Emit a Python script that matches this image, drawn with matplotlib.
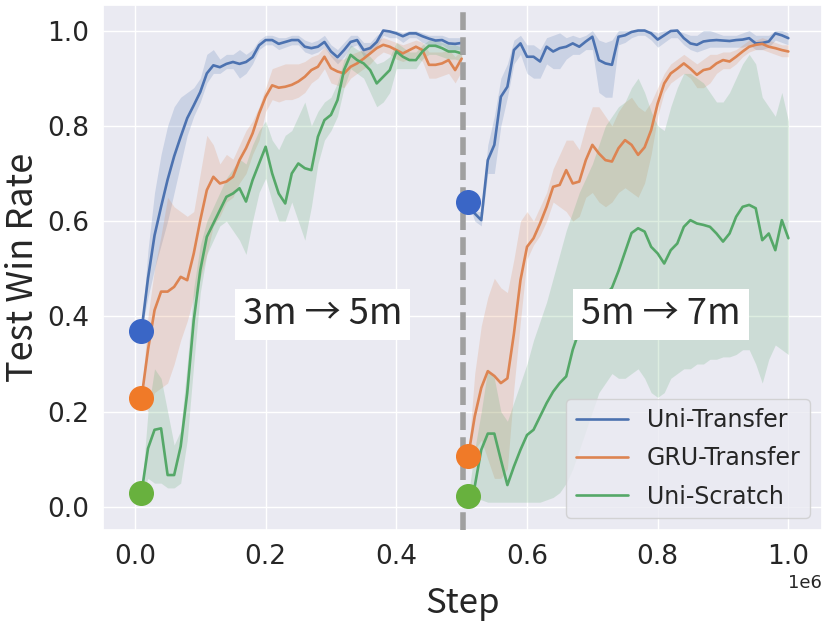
import numpy as np
import matplotlib
matplotlib.use('agg')
import matplotlib.pyplot as plt
import seaborn as sns

sns.set_theme(style="darkgrid")
plt.rcParams['font.family'] = ['DejaVu Sans']

# logged every 10k steps; two phases split at 0.5e6
steps_a = np.arange(1, 51) * 1e4
steps_b = np.arange(51, 101) * 1e4

# ---- phase 1: 3m -> 5m ----
uni_tr_a = [0.37, 0.48, 0.57, 0.63, 0.687, 0.736, 0.777, 0.816, 0.843, 0.871,
            0.91, 0.927, 0.923, 0.93, 0.934, 0.93, 0.934, 0.944, 0.969, 0.98,
            0.98, 0.972, 0.976, 0.98, 0.98, 0.966, 0.963, 0.966, 0.976, 0.956,
            0.944, 0.959, 0.976, 0.98, 0.959, 0.963, 0.976, 1.0, 0.998, 0.994,
            0.988, 0.994, 0.994, 0.988, 0.983, 0.979, 0.98, 0.973, 0.972, 0.974]
uni_tr_a_lo = [0.37, 0.44, 0.50, 0.55, 0.60, 0.66, 0.72, 0.78, 0.82, 0.85,
               0.89, 0.91, 0.91, 0.92, 0.92, 0.90, 0.91, 0.93, 0.96, 0.97,
               0.97, 0.96, 0.965, 0.97, 0.97, 0.955, 0.95, 0.955, 0.965, 0.945,
               0.93, 0.945, 0.965, 0.97, 0.945, 0.95, 0.965, 0.99, 0.985, 0.985,
               0.975, 0.985, 0.985, 0.975, 0.97, 0.965, 0.97, 0.96, 0.96, 0.96]
uni_tr_a_hi = [0.37, 0.54, 0.66, 0.74, 0.80, 0.84, 0.86, 0.87, 0.88, 0.90,
               0.95, 0.96, 0.94, 0.95, 0.95, 0.96, 0.95, 0.96, 0.98, 0.99,
               0.99, 0.985, 0.985, 0.99, 0.99, 0.98, 0.975, 0.98, 0.99, 0.97,
               0.96, 0.975, 0.99, 0.99, 0.975, 0.975, 0.99, 1.0, 1.0, 1.0,
               0.995, 1.0, 1.0, 0.995, 0.99, 0.99, 0.99, 0.985, 0.985, 0.985]

gru_tr_a = [0.228, 0.33, 0.413, 0.452, 0.452, 0.462, 0.483, 0.476, 0.532, 0.602,
            0.665, 0.693, 0.679, 0.683, 0.693, 0.728, 0.753, 0.784, 0.826, 0.861,
            0.885, 0.88, 0.882, 0.886, 0.893, 0.903, 0.917, 0.924, 0.945, 0.921,
            0.914, 0.91, 0.924, 0.931, 0.941, 0.952, 0.963, 0.97, 0.966, 0.959,
            0.952, 0.959, 0.966, 0.959, 0.928, 0.928, 0.931, 0.938, 0.917, 0.941]
gru_tr_a_lo = [0.228, 0.20, 0.24, 0.25, 0.26, 0.30, 0.35, 0.39, 0.44, 0.48,
               0.53, 0.59, 0.61, 0.64, 0.65, 0.68, 0.70, 0.74, 0.77, 0.83,
               0.855, 0.85, 0.855, 0.855, 0.86, 0.87, 0.89, 0.90, 0.92, 0.89,
               0.885, 0.88, 0.90, 0.91, 0.92, 0.93, 0.945, 0.955, 0.95, 0.94,
               0.935, 0.94, 0.945, 0.935, 0.90, 0.90, 0.905, 0.91, 0.89, 0.915]
gru_tr_a_hi = [0.228, 0.40, 0.50, 0.57, 0.65, 0.63, 0.62, 0.61, 0.62, 0.70,
               0.78, 0.76, 0.72, 0.74, 0.73, 0.76, 0.79, 0.81, 0.84, 0.88,
               0.92, 0.925, 0.93, 0.93, 0.93, 0.935, 0.945, 0.95, 0.965, 0.95,
               0.94, 0.94, 0.95, 0.955, 0.96, 0.97, 0.98, 0.985, 0.98, 0.975,
               0.97, 0.975, 0.98, 0.975, 0.955, 0.955, 0.955, 0.96, 0.945, 0.96]

uni_sc_a = [0.029, 0.123, 0.162, 0.165, 0.067, 0.067, 0.127, 0.239, 0.392, 0.497,
            0.567, 0.595, 0.623, 0.651, 0.658, 0.669, 0.641, 0.686, 0.721, 0.756,
            0.70, 0.658, 0.637, 0.70, 0.721, 0.711, 0.707, 0.777, 0.812, 0.823,
            0.854, 0.917, 0.949, 0.938, 0.931, 0.917, 0.889, 0.903, 0.917, 0.956,
            0.945, 0.938, 0.938, 0.956, 0.968, 0.968, 0.963, 0.956, 0.956, 0.952]
uni_sc_a_lo = [0.029, 0.06, 0.05, 0.05, 0.04, 0.04, 0.05, 0.14, 0.30, 0.45,
               0.53, 0.56, 0.59, 0.60, 0.58, 0.56, 0.53, 0.60, 0.66, 0.69,
               0.64, 0.60, 0.60, 0.64, 0.60, 0.56, 0.63, 0.72, 0.77, 0.79,
               0.82, 0.88, 0.92, 0.91, 0.90, 0.87, 0.84, 0.85, 0.87, 0.92,
               0.92, 0.92, 0.92, 0.94, 0.95, 0.95, 0.945, 0.94, 0.94, 0.935]
uni_sc_a_hi = [0.029, 0.20, 0.29, 0.27, 0.20, 0.13, 0.16, 0.30, 0.46, 0.55,
               0.60, 0.63, 0.66, 0.69, 0.71, 0.73, 0.72, 0.76, 0.79, 0.81,
               0.77, 0.75, 0.78, 0.79, 0.82, 0.85, 0.80, 0.83, 0.85, 0.86,
               0.89, 0.94, 0.97, 0.96, 0.955, 0.945, 0.93, 0.935, 0.945, 0.975,
               0.965, 0.955, 0.955, 0.97, 0.98, 0.98, 0.975, 0.97, 0.97, 0.965]

# ---- phase 2: 5m -> 7m ----
uni_tr_b = [0.641, 0.616, 0.602, 0.728, 0.760, 0.861, 0.882, 0.959, 0.973, 0.945,
            0.945, 0.935, 0.966, 0.956, 0.963, 0.966, 0.973, 0.966, 0.977, 0.987,
            0.938, 0.931, 0.928, 0.987, 0.99, 0.997, 1.0, 1.0, 0.994, 0.981,
            0.99, 0.999, 1.0, 0.984, 0.973, 0.97, 0.977, 0.979, 0.98, 0.979,
            0.978, 0.98, 0.981, 0.984, 0.973, 0.974, 0.977, 0.994, 0.99, 0.984]
uni_tr_b_lo = [0.641, 0.60, 0.59, 0.70, 0.70, 0.80, 0.86, 0.93, 0.95, 0.91,
               0.90, 0.90, 0.93, 0.92, 0.92, 0.94, 0.95, 0.95, 0.96, 0.96,
               0.87, 0.86, 0.86, 0.97, 0.975, 0.985, 0.99, 0.99, 0.98, 0.965,
               0.975, 0.985, 0.985, 0.97, 0.96, 0.955, 0.96, 0.965, 0.965, 0.965,
               0.965, 0.965, 0.965, 0.97, 0.96, 0.96, 0.965, 0.98, 0.975, 0.97]
uni_tr_b_hi = [0.641, 0.62, 0.62, 0.76, 0.82, 0.90, 0.93, 0.98, 0.99, 0.97,
               0.97, 0.96, 0.985, 0.99, 0.995, 0.985, 0.99, 0.985, 0.99, 1.0,
               0.98, 0.975, 0.98, 1.0, 1.0, 1.0, 1.0, 1.0, 1.0, 0.995,
               1.0, 1.0, 1.0, 0.995, 0.99, 0.99, 1.0, 1.0, 0.995, 0.99,
               0.99, 0.99, 0.995, 1.0, 0.99, 0.99, 0.99, 1.0, 1.0, 0.995]

gru_tr_b = [0.106, 0.19, 0.25, 0.285, 0.275, 0.26, 0.27, 0.364, 0.476, 0.546,
            0.564, 0.595, 0.63, 0.672, 0.676, 0.707, 0.679, 0.683, 0.728, 0.76,
            0.742, 0.728, 0.725, 0.753, 0.77, 0.76, 0.739, 0.755, 0.791, 0.847,
            0.889, 0.91, 0.92, 0.931, 0.92, 0.907, 0.917, 0.92, 0.931, 0.938,
            0.935, 0.945, 0.956, 0.966, 0.97, 0.972, 0.966, 0.963, 0.959, 0.956]
gru_tr_b_lo = [0.106, 0.12, 0.14, 0.10, 0.06, 0.06, 0.08, 0.25, 0.39, 0.52,
               0.55, 0.57, 0.60, 0.64, 0.63, 0.62, 0.60, 0.61, 0.65, 0.66,
               0.64, 0.63, 0.64, 0.66, 0.67, 0.66, 0.65, 0.68, 0.74, 0.82,
               0.87, 0.89, 0.90, 0.91, 0.90, 0.88, 0.88, 0.89, 0.91, 0.92,
               0.92, 0.93, 0.945, 0.955, 0.96, 0.96, 0.955, 0.95, 0.945, 0.945]
gru_tr_b_hi = [0.106, 0.28, 0.38, 0.44, 0.48, 0.46, 0.45, 0.52, 0.60, 0.62,
               0.60, 0.63, 0.66, 0.71, 0.74, 0.77, 0.77, 0.75, 0.80, 0.84,
               0.84, 0.82, 0.80, 0.83, 0.85, 0.86, 0.84, 0.83, 0.85, 0.88,
               0.91, 0.93, 0.94, 0.95, 0.94, 0.93, 0.94, 0.95, 0.95, 0.955,
               0.955, 0.96, 0.97, 0.98, 0.98, 0.985, 0.98, 0.975, 0.97, 0.97]

uni_sc_b = [0.022, 0.043, 0.12, 0.154, 0.154, 0.099, 0.046, 0.085, 0.12, 0.151,
            0.162, 0.19, 0.218, 0.242, 0.26, 0.274, 0.33, 0.37, 0.39, 0.41,
            0.43, 0.445, 0.46, 0.495, 0.535, 0.575, 0.585, 0.578, 0.546, 0.532,
            0.511, 0.539, 0.553, 0.588, 0.602, 0.595, 0.592, 0.588, 0.574, 0.557,
            0.574, 0.609, 0.63, 0.634, 0.627, 0.56, 0.574, 0.539, 0.602, 0.564]
uni_sc_b_lo = [0.022, 0.02, 0.015, 0.01, 0.01, 0.01, 0.01, 0.01, 0.01, 0.01,
               0.01, 0.01, 0.015, 0.02, 0.03, 0.05, 0.08, 0.12, 0.16, 0.20,
               0.24, 0.26, 0.28, 0.27, 0.27, 0.28, 0.29, 0.27, 0.24, 0.23,
               0.24, 0.27, 0.28, 0.29, 0.29, 0.30, 0.30, 0.31, 0.31, 0.315,
               0.315, 0.32, 0.33, 0.33, 0.30, 0.26, 0.31, 0.34, 0.33, 0.32]
uni_sc_b_hi = [0.022, 0.12, 0.20, 0.29, 0.27, 0.20, 0.18, 0.22, 0.26, 0.30,
               0.35, 0.39, 0.43, 0.48, 0.53, 0.58, 0.62, 0.66, 0.69, 0.72,
               0.76, 0.80, 0.82, 0.84, 0.85, 0.88, 0.90, 0.87, 0.83, 0.80,
               0.79, 0.84, 0.88, 0.91, 0.91, 0.90, 0.89, 0.87, 0.85, 0.85,
               0.87, 0.90, 0.93, 0.95, 0.93, 0.86, 0.84, 0.82, 0.87, 0.81]

labels = ['Uni-Transfer', 'GRU-Transfer', 'Uni-Scratch']
line_colors = ['#4c72b0', '#dd8452', '#55a868']
dot_colors = ['#3a66c6', '#f07a28', '#68b13e']
phases = [
    (steps_a, [(uni_tr_a, uni_tr_a_lo, uni_tr_a_hi),
               (gru_tr_a, gru_tr_a_lo, gru_tr_a_hi),
               (uni_sc_a, uni_sc_a_lo, uni_sc_a_hi)]),
    (steps_b, [(uni_tr_b, uni_tr_b_lo, uni_tr_b_hi),
               (gru_tr_b, gru_tr_b_lo, gru_tr_b_hi),
               (uni_sc_b, uni_sc_b_lo, uni_sc_b_hi)]),
]
switch_step = 0.502e6
phase_names = ['3m \u2192 5m', '5m \u2192 7m']
name_pos = [(0.287e6, 0.404), (0.805e6, 0.404)]
cjk = ['Noto Sans CJK SC', 'DejaVu Sans']

fig, ax = plt.subplots(figsize=(8.3, 6.3), dpi=100)
fig.subplots_adjust(left=0.124, right=0.990, top=0.992, bottom=0.159)

for p, (steps, series) in enumerate(phases):
    for k, (mean, lo, hi) in enumerate(series):
        ax.fill_between(steps, lo, hi, color=line_colors[k], alpha=0.2, lw=0)
        ax.plot(steps, mean, color=line_colors[k], lw=1.9,
                label=labels[k] if p == 0 else None)

ax.axvline(switch_step, color='#a0a0a0', lw=4, dashes=(3.2, 1.3), zorder=4)

for steps, series in phases:
    for k, (mean, lo, hi) in enumerate(series):
        ax.plot(steps[0], mean[0], 'o', ms=17, color=dot_colors[k],
                mec=dot_colors[k], zorder=6, clip_on=False)

for name, (xx, yy) in zip(phase_names, name_pos):
    ax.text(xx, yy, name, fontsize=26, family=cjk, fontweight='light',
            ha='center', va='center', zorder=7,
            bbox=dict(facecolor='white', edgecolor='none', boxstyle='square,pad=0.22'))

ax.set_xlim(-0.049e6, 1.051e6)
ax.set_ylim(-0.048, 1.0535)
ax.set_xticks(np.arange(0, 1.01e6, 0.2e6))
ax.set_yticks(np.arange(0, 1.01, 0.2))
ax.tick_params(labelsize=19, pad=4)
ax.xaxis.get_offset_text().set_fontsize(13)
ax.set_xlabel('Step', fontsize=25, family=cjk, fontweight='light', labelpad=12)
ax.set_ylabel('Test Win Rate', fontsize=26, family=cjk, fontweight='light', labelpad=4)
ax.legend(loc='lower right', fontsize=17, labelspacing=0.6, handlelength=2.2)

plt.savefig('out.png')
